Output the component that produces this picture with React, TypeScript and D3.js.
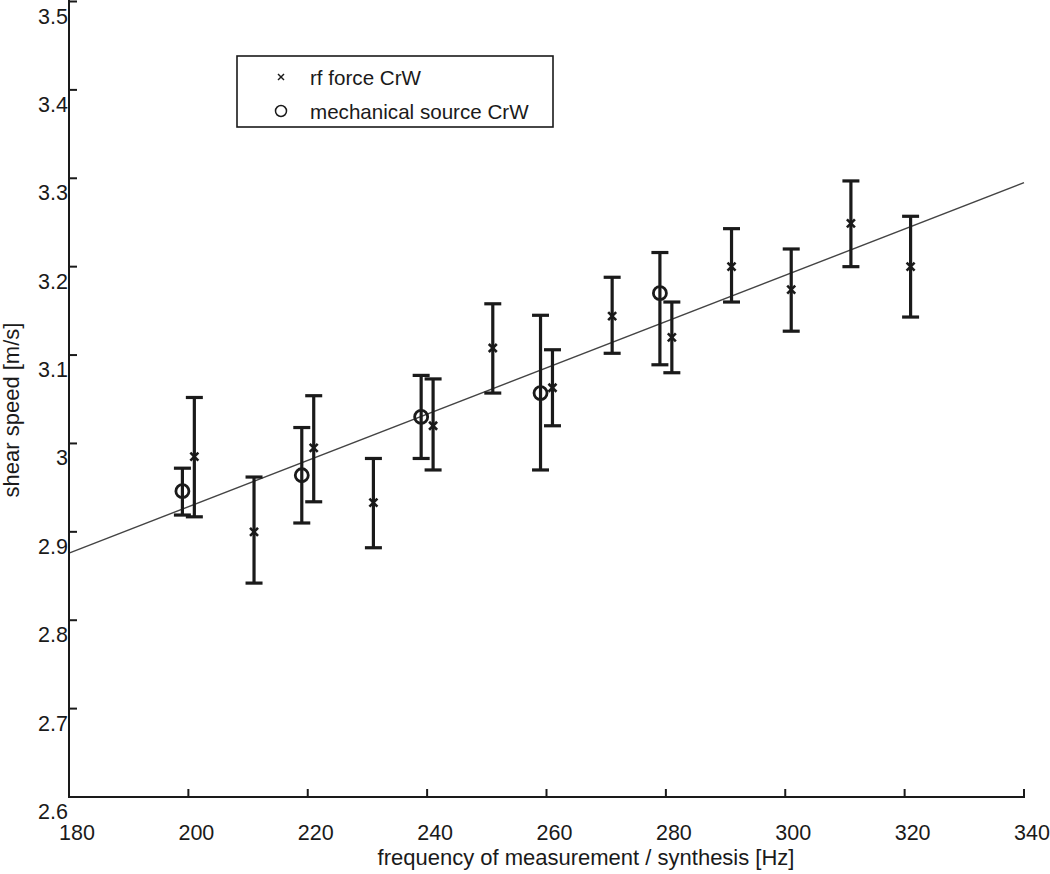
import React from "react";
import * as d3 from "d3";

const rfFreq = [201, 211, 221, 231, 241, 251, 261, 271, 281, 291, 301, 311, 321];
const rfSpeed = [2.985, 2.9, 2.995, 2.933, 3.02, 3.108, 3.063, 3.144, 3.12, 3.2, 3.174, 3.249, 3.2];
const rfUpper = [3.052, 2.962, 3.054, 2.983, 3.073, 3.158, 3.106, 3.188, 3.16, 3.243, 3.22, 3.297, 3.257];
const rfLower = [2.917, 2.842, 2.934, 2.882, 2.97, 3.057, 3.02, 3.102, 3.08, 3.16, 3.127, 3.2, 3.143];

const mechFreq = [199, 219, 239, 259, 279];
const mechSpeed = [2.946, 2.964, 3.03, 3.057, 3.17];
const mechUpper = [2.972, 3.018, 3.077, 3.145, 3.216];
const mechLower = [2.919, 2.91, 2.983, 2.97, 3.089];

const fitFreq = [180, 340];
const fitSpeed = [2.876, 3.295];

const xTicks = [180, 200, 220, 240, 260, 280, 300, 320, 340];
const yTicks = [2.6, 2.7, 2.8, 2.9, 3.0, 3.1, 3.2, 3.3, 3.4, 3.5];

const legendLabels = ["rf force CrW", "mechanical source CrW"];
const xTitle = "frequency of measurement / synthesis [Hz]";
const yTitle = "shear speed [m/s]";

const FONT = "'Liberation Sans', Arial, sans-serif";

export default function App() {
  const x = d3.scaleLinear().domain([180, 340]).range([69, 1024]);
  const y = d3.scaleLinear().domain([2.6, 3.5]).range([797, 1.5]);
  const line = d3
    .line<number>()
    .x((_, i) => x(fitFreq[i]))
    .y((d) => y(d));
  const capW = 8.5;
  const ink = "#1a1a1a";

  const errBar = (f: number, lo: number, hi: number, key: string) => (
    <g key={key} stroke={ink} strokeWidth={3.2} fill="none">
      <line x1={x(f)} x2={x(f)} y1={y(lo)} y2={y(hi)} />
      <line x1={x(f) - capW} x2={x(f) + capW} y1={y(lo)} y2={y(lo)} />
      <line x1={x(f) - capW} x2={x(f) + capW} y1={y(hi)} y2={y(hi)} />
    </g>
  );

  return (
    <svg
      width={1050}
      height={874}
      style={{ position: "absolute", left: 0, top: 0, display: "block", background: "#fff" }}
    >
      <path d={line(fitSpeed) || ""} fill="none" stroke="#444" strokeWidth={1.4} />

      {mechFreq.map((f, i) => errBar(f, mechLower[i], mechUpper[i], "m" + i))}
      {rfFreq.map((f, i) => errBar(f, rfLower[i], rfUpper[i], "r" + i))}

      {mechFreq.map((f, i) => (
        <circle key={"c" + i} cx={x(f)} cy={y(mechSpeed[i])} r={6.5} fill="none" stroke={ink} strokeWidth={2.8} />
      ))}
      {rfFreq.map((f, i) => {
        const cx = x(f);
        const cy = y(rfSpeed[i]);
        const s = 4;
        return (
          <g key={"x" + i} stroke={ink} strokeWidth={2.6}>
            <line x1={cx - s} y1={cy - s} x2={cx + s} y2={cy + s} />
            <line x1={cx - s} y1={cy + s} x2={cx + s} y2={cy - s} />
          </g>
        );
      })}

      <g stroke={ink} strokeWidth={2} fill="none">
        <line x1={69} x2={69} y1={0} y2={798} />
        <line x1={68} x2={1025} y1={797} y2={797} />
        {xTicks.map((t) => (
          <line key={"xt" + t} x1={x(t)} x2={x(t)} y1={797} y2={789} />
        ))}
        {yTicks.map((t) => (
          <line key={"yt" + t} x1={69} x2={77} y1={y(t)} y2={y(t)} />
        ))}
      </g>
      <g fontFamily={FONT} fontSize={21.5} fill={ink}>
        {xTicks.map((t) => (
          <text key={"xl" + t} x={x(t) + 8} y={840} textAnchor="middle">
            {t}
          </text>
        ))}
        {yTicks.map((t) => (
          <text key={"yl" + t} x={68} y={y(t) + 22} textAnchor="end">
            {d3.format("~g")(t)}
          </text>
        ))}
      </g>
      <g fontFamily={FONT} fontSize={22} fill={ink}>
        <text x={586} y={865} textAnchor="middle">
          {xTitle}
        </text>
        <text transform="translate(19,410) rotate(-90)" textAnchor="middle">
          {yTitle}
        </text>
      </g>

      <g>
        <rect x={237} y={56} width={316} height={71} fill="#fff" stroke={ink} strokeWidth={1.6} />
        <g stroke={ink} strokeWidth={1.4}>
          <line x1={278} y1={74} x2={284} y2={80} />
          <line x1={278} y1={80} x2={284} y2={74} />
        </g>
        <circle cx={281} cy={111} r={5.5} fill="none" stroke={ink} strokeWidth={1.5} />
        <g fontFamily={FONT} fontSize={20.6} fill={ink}>
          <text x={310} y={85}>{legendLabels[0]}</text>
          <text x={310} y={119}>{legendLabels[1]}</text>
        </g>
      </g>
    </svg>
  );
}
